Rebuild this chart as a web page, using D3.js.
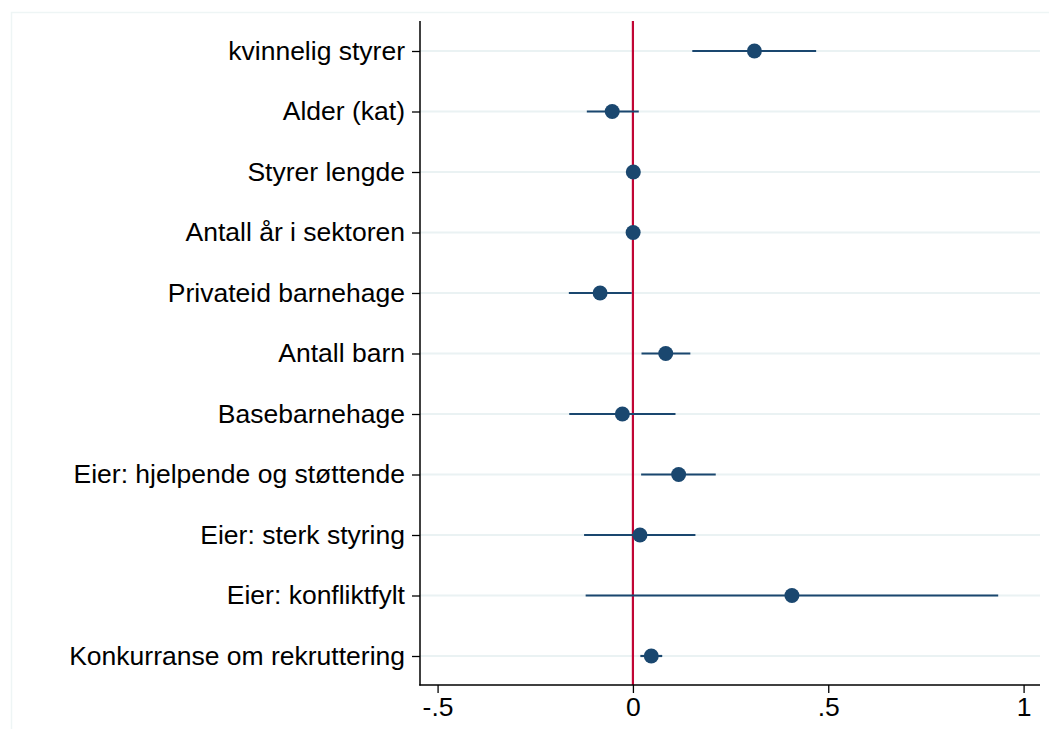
<!DOCTYPE html>
<html>
<head>
<meta charset="utf-8">
<script src="https://cdn.jsdelivr.net/npm/d3@7"></script>
<style>
  html, body { margin: 0; padding: 0; background: #fff; }
  svg { display: block; }
  text { font-family: "Liberation Sans", Arial, sans-serif; }
</style>
</head>
<body>
<svg id="chart" width="1049" height="729"></svg>
<script>
const categories = [
  "kvinnelig styrer",
  "Alder (kat)",
  "Styrer lengde",
  "Antall år i sektoren",
  "Privateid barnehage",
  "Antall barn",
  "Basebarnehage",
  "Eier: hjelpende og støttende",
  "Eier: sterk styring",
  "Eier: konfliktfylt",
  "Konkurranse om rekruttering"
];
const estimates = [0.311, -0.053, 0.001, 0.0005, -0.084, 0.084, -0.027, 0.117, 0.018, 0.407, 0.047];
const ciLower   = [0.152, -0.118, -0.001, -0.001, -0.164, 0.022, -0.163, 0.021, -0.125, -0.121, 0.019];
const ciUpper   = [0.469, 0.015, 0.003, 0.002, -0.003, 0.147, 0.109, 0.212, 0.160, 0.935, 0.075];
const xTicks = [-0.5, 0, 0.5, 1];
const xTickLabels = ["-.5", "0", ".5", "1"];

const svg = d3.select("#chart");
const W = 1049, H = 729;
const plot = { left: 420, right: 1040, top: 21, bottom: 685 };
const FS = 26.5;

// faint outer graph-region frame
svg.append("path")
  .attr("d", `M11.5,${H} V12.5 H${W}`)
  .attr("fill", "none").attr("stroke", "#eef5f5").attr("stroke-width", 1.5);

const x = d3.scaleLinear().domain([-0.545, 1.042]).range([plot.left, plot.right]);
const y = d3.scalePoint().domain(categories).range([51, 656]);

// gridlines
svg.append("g").selectAll("line").data(categories).join("line")
  .attr("x1", plot.left).attr("x2", plot.right)
  .attr("y1", d => y(d)).attr("y2", d => y(d))
  .attr("stroke", "#eaf2f3").attr("stroke-width", 2);

// zero reference line
svg.append("line")
  .attr("x1", x(0)).attr("x2", x(0))
  .attr("y1", plot.top).attr("y2", plot.bottom)
  .attr("stroke", "#c10534").attr("stroke-width", 2.2);

// y axis
const yAxis = d3.axisLeft(y).tickSize(8).tickPadding(7);
const gy = svg.append("g").attr("transform", `translate(${plot.left},0)`).call(yAxis);
gy.select(".domain").remove();
gy.append("line").attr("x1", 0).attr("x2", 0).attr("y1", plot.top).attr("y2", plot.bottom + 0.5)
  .attr("stroke", "#000").attr("stroke-width", 1.5);
gy.selectAll(".tick line").attr("stroke", "#000").attr("stroke-width", 1.3);
gy.selectAll(".tick text").attr("font-size", FS).attr("fill", "#000")
  .attr("font-family", "'Liberation Sans', Arial, sans-serif");

// x axis
const xAxis = d3.axisBottom(x).tickValues(xTicks).tickFormat((d, i) => xTickLabels[i]).tickSize(8).tickPadding(4);
const gx = svg.append("g").attr("transform", `translate(0,${plot.bottom})`).call(xAxis);
gx.select(".domain").remove();
gx.append("line").attr("x1", plot.left - 0.75).attr("x2", plot.right).attr("y1", 0).attr("y2", 0)
  .attr("stroke", "#000").attr("stroke-width", 1.5);
gx.selectAll(".tick line").attr("stroke", "#000").attr("stroke-width", 1.3);
gx.selectAll(".tick text").attr("font-size", FS).attr("fill", "#000")
  .attr("font-family", "'Liberation Sans', Arial, sans-serif");

// confidence intervals
svg.append("g").selectAll("line").data(categories).join("line")
  .attr("x1", (d, i) => x(ciLower[i])).attr("x2", (d, i) => x(ciUpper[i]))
  .attr("y1", d => y(d)).attr("y2", d => y(d))
  .attr("stroke", "#1a476f").attr("stroke-width", 2.2);

// point estimates
svg.append("g").selectAll("circle").data(categories).join("circle")
  .attr("cx", (d, i) => x(estimates[i]))
  .attr("cy", d => y(d))
  .attr("r", 7.5)
  .attr("fill", "#1a476f");
</script>
</body>
</html>
